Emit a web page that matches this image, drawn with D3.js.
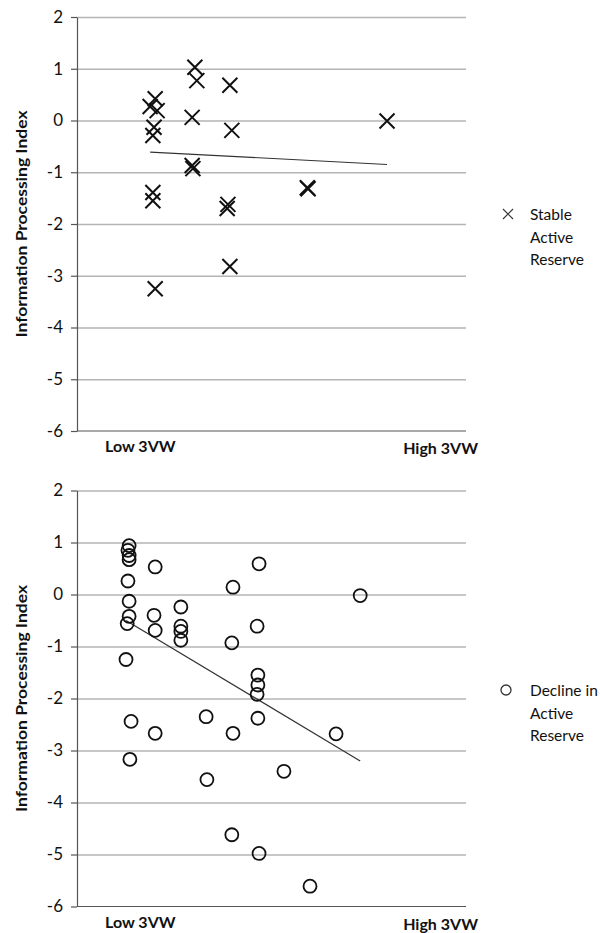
<!DOCTYPE html>
<html>
<head>
    <meta charset="utf-8">
    <title>Information Processing Index by 3VW</title>
    <script type="text/javascript" src="https://cdn.jsdelivr.net/npm/d3@7"></script>
    <style>
        body { margin: 0; background: #fff; }
        text { font-family: Lato, "Open Sans", sans-serif; fill: #111; }
    </style>
</head>
<body>
    <div id="chart_div"></div>
    <script type="text/javascript">
        // y axis ticks (same for both panels)
        const yTicks = [2, 1, 0, -1, -2, -3, -4, -5, -6];
        const xEndLabels = ["Low 3VW", "High 3VW"];
        const yTitle = "Information Processing Index";

        // top panel: stable active reserve (x on a 0-100 3VW scale)
        const stableX = [20.1, 18.8, 20.6, 19.8, 19.5, 19.5, 19.5, 20.1,
                         30.3, 30.8, 29.6, 29.6, 29.8,
                         39.3, 39.8, 38.8, 38.6, 39.3,
                         59.2, 59.4, 79.7];
        const stableY = [0.42, 0.27, 0.19, -0.13, -0.29, -1.39, -1.55, -3.25,
                         1.03, 0.77, 0.06, -0.87, -0.93,
                         0.68, -0.19, -1.62, -1.70, -2.82,
                         -1.30, -1.32, -0.01];
        const stableTrendX = [18.8, 79.7];
        const stableTrendY = [-0.61, -0.85];
        const stableLegend = ["Stable", "Active", "Reserve"];

        // bottom panel: decline in active reserve
        const declineX = [13.4, 13.1, 13.4, 13.4, 13.1, 13.4, 13.4, 12.9, 12.6, 13.9, 13.6,
                          20.1, 19.8, 20.1, 20.1,
                          26.7, 26.7, 26.7, 26.7,
                          33.2, 33.4,
                          40.1, 39.8, 40.1, 39.8,
                          46.8, 46.3, 46.5, 46.5, 46.3, 46.5, 46.8,
                          53.2, 59.9, 66.6, 72.8];
        const declineY = [0.94, 0.85, 0.75, 0.67, 0.26, -0.13, -0.42, -0.56, -1.25, -2.44, -3.17,
                          0.53, -0.40, -0.69, -2.67,
                          -0.24, -0.61, -0.71, -0.88,
                          -2.35, -3.56,
                          0.14, -0.93, -2.67, -4.62,
                          0.59, -0.61, -1.55, -1.74, -1.92, -2.38, -4.98,
                          -3.40, -5.61, -2.68, -0.02];
        const declineTrendX = [12.6, 72.8];
        const declineTrendY = [-0.50, -3.20];
        const declineLegend = ["Decline in", "Active", "Reserve"];

        const width = 600, height = 933;
        const svg = d3.select("#chart_div").append("svg")
            .attr("width", width)
            .attr("height", height);

        const x = d3.scaleLinear().domain([0, 100]).range([77, 466]);

        function drawPanel(opts) {
            const y = d3.scaleLinear().domain([-6, 2]).range([opts.bottom, opts.top]);
            const g = svg.append("g");

            // gridlines
            g.append("g")
                .attr("transform", `translate(${x(0)},0)`)
                .call(d3.axisLeft(y).tickValues(yTicks.filter(t => t > -6))
                    .tickSize(-(x(100) - x(0))).tickFormat(""))
                .call(a => a.select(".domain").remove())
                .call(a => a.selectAll("line").attr("stroke", "#b4b4b4").attr("stroke-width", 1.3));

            // y axis
            g.append("g")
                .attr("transform", `translate(${x(0)},0)`)
                .call(d3.axisLeft(y).tickValues(yTicks).tickSize(6).tickSizeOuter(0).tickPadding(8)
                    .tickFormat(d3.format("d")))
                .call(a => a.select(".domain").attr("stroke", "#555").attr("stroke-width", 1.2))
                .call(a => a.selectAll(".tick line").attr("stroke", "#555").attr("stroke-width", 1.2))
                .call(a => a.selectAll(".tick text")
                    .style("font-family", "Lato, 'Open Sans', sans-serif")
                    .style("font-size", "17px").attr("fill", "#111")
                    .text(d => d < 0 ? "-" + Math.abs(d) : d));

            // x axis line
            g.append("line")
                .attr("x1", x(0)).attr("x2", x(100))
                .attr("y1", y(-6)).attr("y2", y(-6))
                .attr("stroke", "#555").attr("stroke-width", 1.2);

            // x end labels
            g.append("text").attr("x", 105).attr("y", y(-6) + opts.labelDy)
                .style("font-size", "16px").style("font-weight", "bold")
                .text(xEndLabels[0]);
            g.append("text").attr("x", 478).attr("y", y(-6) + opts.labelDy + 2)
                .attr("text-anchor", "end")
                .style("font-size", "16px").style("font-weight", "bold")
                .text(xEndLabels[1]);

            // y title
            const midY = (y(2) + y(-6)) / 2;
            g.append("text")
                .attr("transform", `translate(27,${midY}) rotate(-90)`)
                .attr("text-anchor", "middle")
                .attr("textLength", 227)
                .attr("lengthAdjust", "spacingAndGlyphs")
                .style("font-size", "15.5px").style("font-weight", "bold")
                .text(yTitle);

            // trend line
            g.append("line")
                .attr("x1", x(opts.trendX[0])).attr("y1", y(opts.trendY[0]))
                .attr("x2", x(opts.trendX[1])).attr("y2", y(opts.trendY[1]))
                .attr("stroke", "#333").attr("stroke-width", 1.2);

            // points
            const pts = opts.xs.map((v, i) => ({ x: v, y: opts.ys[i] }));
            if (opts.marker === "cross") {
                const s = 7.5;
                g.append("g").selectAll("path")
                    .data(pts)
                    .enter().append("path")
                    .attr("d", d => {
                        const cx = x(d.x), cy = y(d.y);
                        return `M${cx - s},${cy - s}L${cx + s},${cy + s}M${cx - s},${cy + s}L${cx + s},${cy - s}`;
                    })
                    .attr("stroke", "#111").attr("stroke-width", 2).attr("fill", "none");
            } else {
                g.append("g").selectAll("circle")
                    .data(pts)
                    .enter().append("circle")
                    .attr("cx", d => x(d.x)).attr("cy", d => y(d.y))
                    .attr("r", 6.5)
                    .attr("fill", "none").attr("stroke", "#111").attr("stroke-width", 1.8);
            }

            // legend
            const lx = 508, ly = opts.legendY;
            if (opts.marker === "cross") {
                const s = 5;
                g.append("path")
                    .attr("d", `M${lx - s},${ly - s}L${lx + s},${ly + s}M${lx - s},${ly + s}L${lx + s},${ly - s}`)
                    .attr("stroke", "#333").attr("stroke-width", 1.1);
            } else {
                g.append("circle").attr("cx", lx - 2).attr("cy", ly).attr("r", 5)
                    .attr("fill", "none").attr("stroke", "#333").attr("stroke-width", 1.3);
            }
            g.append("g").selectAll("text")
                .data(opts.legend)
                .enter().append("text")
                .attr("x", 530)
                .attr("y", (d, i) => ly + 6 + i * 22.5)
                .style("font-size", "15.5px")
                .text(d => d);
        }

        drawPanel({
            top: 17, bottom: 431, labelDy: 21,
            xs: stableX, ys: stableY, trendX: stableTrendX, trendY: stableTrendY,
            marker: "cross", legend: stableLegend, legendY: 214
        });

        drawPanel({
            top: 490.5, bottom: 906.5, labelDy: 21,
            xs: declineX, ys: declineY, trendX: declineTrendX, trendY: declineTrendY,
            marker: "circle", legend: declineLegend, legendY: 690
        });
    </script>
</body>
</html>
